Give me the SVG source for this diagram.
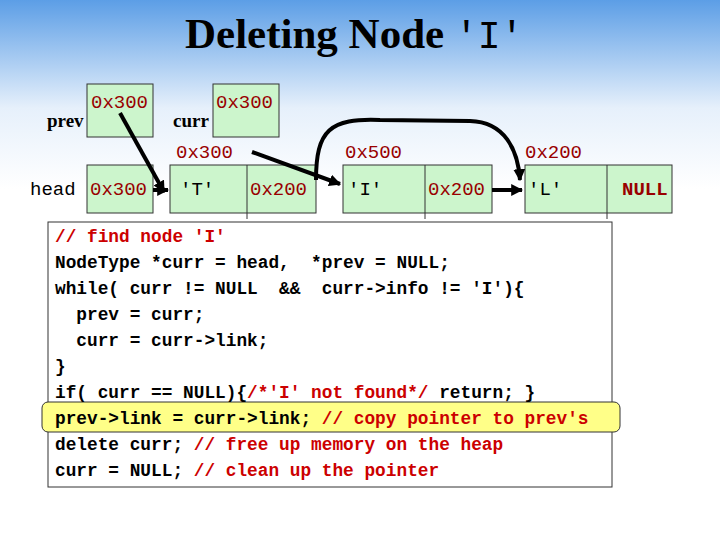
<svg xmlns="http://www.w3.org/2000/svg" width="720" height="540" viewBox="0 0 720 540">
<defs>
<linearGradient id="bg" x1="0" y1="0" x2="0" y2="1"><stop offset="0" stop-color="#5c9ee6"/><stop offset="0.2" stop-color="#e6f0fb"/><stop offset="0.35" stop-color="#fff"/></linearGradient>
<marker id="ah" viewBox="0 0 10 10" refX="9" refY="5" markerWidth="3" markerHeight="3" orient="auto"><path d="M0,0L10,5L0,10z" fill="#000"/></marker>
<style>
.b{fill:#ccf5cc;stroke:#333;stroke-width:1}
.m{font-family:"Liberation Mono",monospace;font-size:19px}
.r{fill:#990000}
.s{font-family:"Liberation Serif",serif;font-size:19px;font-weight:bold}
.c{font-family:"Liberation Mono",monospace;font-size:17.8px;font-weight:bold}
.cr{fill:#cc0000}
.a{stroke:#000;stroke-width:4;fill:none;marker-end:url(#ah)}
</style>
</defs>
<rect width="720" height="540" fill="url(#bg)"/>
<text x="185" y="48" font-family="Liberation Serif,serif" font-size="43" font-weight="bold">Deleting Node <tspan font-family="Liberation Mono,monospace" font-weight="normal" font-size="38">'I'</tspan></text>
<g id="prev"><text x="47" y="127" class="s">prev</text><rect x="87" y="84" width="66" height="53" class="b"/><text x="91" y="108" class="m r">0x300</text></g>
<g id="curr"><text x="173" y="127" class="s">curr</text><rect x="213" y="84" width="66" height="53" class="b"/><text x="216" y="108" class="m r">0x300</text></g>
<g id="head"><text x="30" y="195" class="m">head</text><rect x="87" y="165" width="66" height="48" class="b"/><text x="90" y="195" class="m r">0x300</text></g>
<g id="nodeT"><text x="176" y="158" class="m r">0x300</text><rect x="170" y="165" width="146" height="48" class="b"/><line x1="247" y1="165" x2="247" y2="219" stroke="#333"/><text x="180" y="195" class="m">'T'</text><text x="250" y="195" class="m r">0x200</text></g>
<g id="nodeI"><text x="345" y="158" class="m r">0x500</text><rect x="343" y="165" width="149" height="48" class="b"/><line x1="425" y1="165" x2="425" y2="219" stroke="#333"/><text x="348" y="195" class="m">'I'</text><text x="428" y="195" class="m r">0x200</text></g>
<g id="nodeL"><text x="525" y="158" class="m r">0x200</text><rect x="525" y="165" width="147" height="48" class="b"/><line x1="607" y1="165" x2="607" y2="219" stroke="#333"/><text x="528" y="195" class="m">'L'</text><text x="622" y="195" class="m r" font-weight="bold">NULL</text></g>
<g id="connectors">
<path class="a" d="M120,113 L164,192"/>
<path class="a" d="M252,152 L340,184"/>
<path class="a" d="M153,190 L168,190"/>
<path class="a" d="M492,190 L522,190"/>
<path class="a" d="M316,180 C316,130 330,118 380,120 L470,121 C505,122 518,150 520,180"/>
</g>
<g id="code">
<rect x="48" y="222" width="564" height="265" fill="#fff" stroke="#333"/>
<rect x="42" y="402" width="578" height="30" rx="6" fill="#ffff88" stroke="#333"/>
<text class="c" x="55" y="242"><tspan class="cr">// find node 'I'</tspan></text>
<text class="c" x="55" y="268" xml:space="preserve">NodeType *curr = head,  *prev = NULL;</text>
<text class="c" x="55" y="294" xml:space="preserve">while( curr != NULL  &amp;&amp;  curr-&gt;info != 'I'){</text>
<text class="c" x="55" y="320" xml:space="preserve">  prev = curr;</text>
<text class="c" x="55" y="346" xml:space="preserve">  curr = curr-&gt;link;</text>
<text class="c" x="55" y="372">}</text>
<text class="c" x="55" y="398" xml:space="preserve">if( curr == NULL){<tspan class="cr">/*'I' not found*/</tspan> return; }</text>
<text class="c" x="55" y="424" xml:space="preserve">prev-&gt;link = curr-&gt;link; <tspan class="cr">// copy pointer to prev's</tspan></text>
<text class="c" x="55" y="450" xml:space="preserve">delete curr; <tspan class="cr">// free up memory on the heap</tspan></text>
<text class="c" x="55" y="476" xml:space="preserve">curr = NULL; <tspan class="cr">// clean up the pointer</tspan></text>
</g>
</svg>
